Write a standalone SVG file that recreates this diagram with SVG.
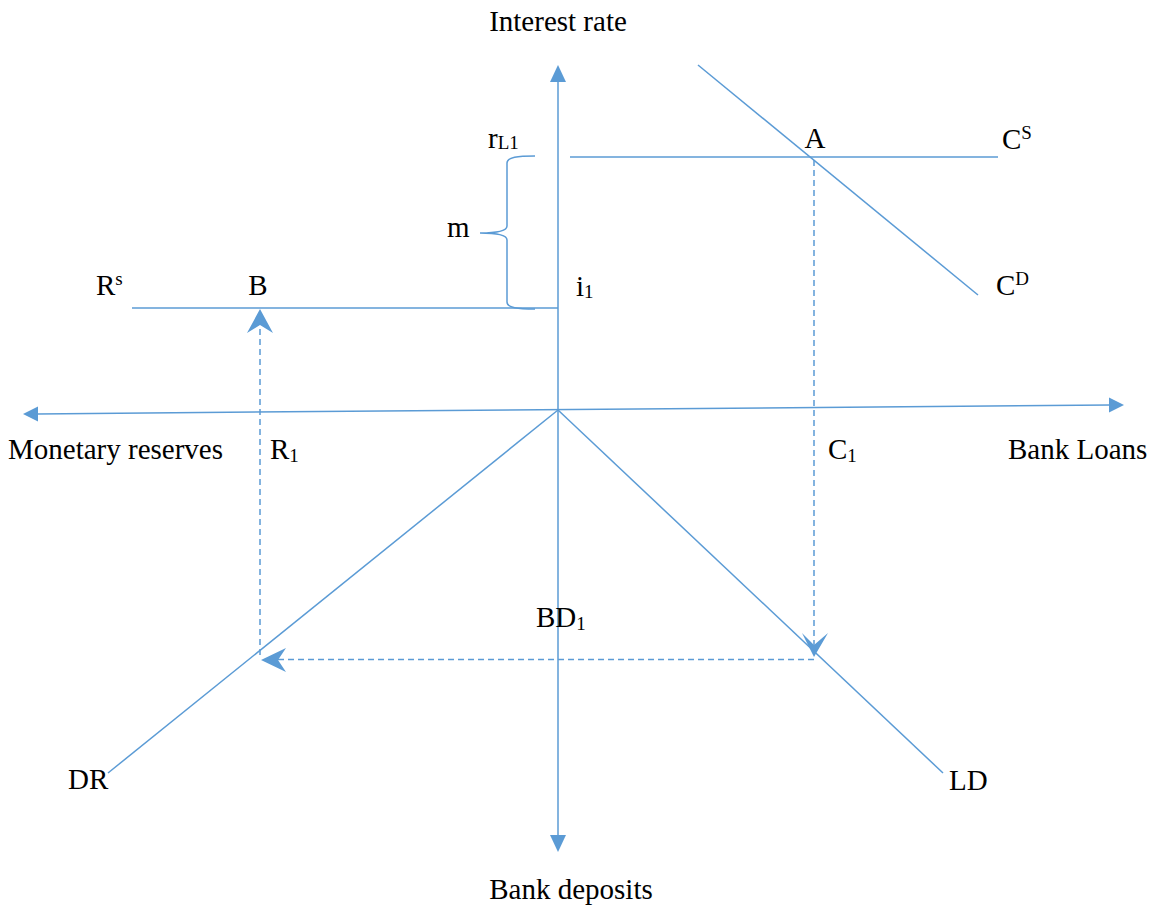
<svg xmlns="http://www.w3.org/2000/svg" width="1160" height="905" viewBox="0 0 1160 905">
<style>
.ln{stroke:#5B9BD5;stroke-width:1.5;fill:none}
.ds{stroke:#5B9BD5;stroke-width:1.5;fill:none;stroke-dasharray:6 4}
.ah{fill:#5B9BD5;stroke:none}
text{font-family:"Liberation Serif","Times New Roman",serif;font-size:29px;fill:#000}
.sub{font-size:19px}
</style>
<rect width="1160" height="905" fill="#fff"/>
<g id="connectors">
<!-- axes -->
<line class="ln" x1="558" y1="80" x2="558" y2="836"/>
<polygon class="ah" points="558,65 550,82 566,82"/>
<polygon class="ah" points="558,852 550,835 566,835"/>
<line class="ln" x1="37" y1="413.9" x2="1110" y2="405.1"/>
<polygon class="ah" points="23,414 38,406.5 38,421.5"/>
<polygon class="ah" points="1124,405 1109,397.5 1109,412.5"/>
<!-- curves -->
<line class="ln" x1="570" y1="157" x2="998" y2="157"/>
<line class="ln" x1="132" y1="308" x2="558" y2="308"/>
<line class="ln" x1="698" y1="65" x2="978" y2="295"/>
<line class="ln" x1="558" y1="410" x2="108" y2="773"/>
<line class="ln" x1="558" y1="410" x2="943" y2="773"/>
<!-- brace -->
<path class="ln" d="M535,156 C518,156 507,157 507,163 L507,226 C507,231 495,233 480,233 C495,233 507,235 507,240 L507,302 C507,308 518,309 535,309"/>
<!-- dashed -->
<line class="ds" x1="814" y1="160" x2="814" y2="646"/>
<polygon class="ah" points="814,657 802,633 814,645 828,633"/>
<line class="ds" x1="814" y1="659.5" x2="278" y2="659.5"/>
<polygon class="ah" points="261,660 286,648 278,660 286,672"/>
<line class="ds" x1="260" y1="655" x2="260" y2="326"/>
<polygon class="ah" points="260,309 273,333 260,325 247,333"/>
</g>
<g id="labels">
<text x="558" y="31" text-anchor="middle">Interest rate</text>
<text x="571" y="899" text-anchor="middle">Bank deposits</text>
<text x="8" y="459">Monetary reserves</text>
<text x="1008" y="459">Bank Loans</text>
<text x="488" y="148">r<tspan class="sub" dy="1">L1</tspan></text>
<text x="815" y="148" text-anchor="middle">A</text>
<text x="1002" y="149">C<tspan class="sub" dy="-10">S</tspan></text>
<text x="447" y="237">m</text>
<text x="96" y="295">R<tspan class="sub" dy="-10">s</tspan></text>
<text x="258" y="295" text-anchor="middle">B</text>
<text x="576" y="296">i<tspan class="sub" dy="2">1</tspan></text>
<text x="996" y="295">C<tspan class="sub" dy="-10">D</tspan></text>
<text x="270" y="459">R<tspan class="sub" dy="3">1</tspan></text>
<text x="828" y="459">C<tspan class="sub" dy="3">1</tspan></text>
<text x="536" y="627">BD<tspan class="sub" dy="3">1</tspan></text>
<text x="68" y="789">DR</text>
<text x="949" y="790">LD</text>
</g>
</svg>
